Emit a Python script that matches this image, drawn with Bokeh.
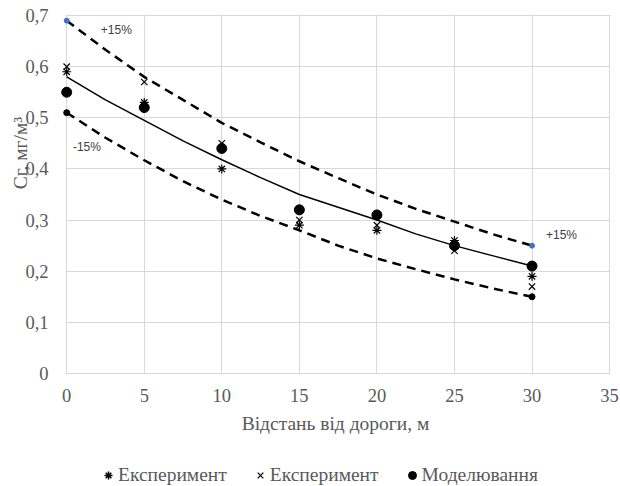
import numpy as np
from bokeh.plotting import figure
from bokeh.layouts import column
from bokeh.models import (Range1d, FixedTicker, CustomJSTickFormatter, Label, Legend, LegendItem,
                          BoxAnnotation)
from bokeh.embed import file_html
from bokeh.resources import INLINE

# ---- data ----
dist = [0, 5, 10, 15, 20, 25, 30]
exp1 = [0.59, 0.53, 0.40, 0.29, 0.28, 0.26, 0.19]   # asterisk markers
exp2 = [0.60, 0.57, 0.45, 0.30, 0.29, 0.24, 0.17]   # x markers
model = [0.55, 0.52, 0.44, 0.32, 0.31, 0.25, 0.21]  # filled circles

curve_x = [0, 2.5, 5, 7.5, 10, 12.5, 15, 17.5, 20, 22.5, 25, 27.5, 30]
trend = [0.58, 0.535, 0.495, 0.455, 0.418, 0.383, 0.35, 0.325, 0.30, 0.273, 0.25, 0.23, 0.21]
upper = [0.69, 0.633, 0.58, 0.535, 0.49, 0.452, 0.415, 0.382, 0.35, 0.322, 0.297, 0.272, 0.25]
lower = [0.51, 0.461, 0.417, 0.376, 0.34, 0.308, 0.28, 0.25, 0.225, 0.204, 0.184, 0.166, 0.15]

x_ticks = [0, 5, 10, 15, 20, 25, 30, 35]
y_ticks = [0, 0.1, 0.2, 0.3, 0.4, 0.5, 0.6, 0.7]

TXT = "#595959"
GRID = "#d9d9d9"
SERIF = "Liberation Serif"

p = figure(width=620, height=446, output_backend="svg", toolbar_location=None,
           x_range=Range1d(-0.4, 35.06), y_range=Range1d(-0.002, 0.702),
           min_border_left=60, min_border_right=10, min_border_top=14, min_border_bottom=72)
p.outline_line_color = None
p.background_fill_color = "white"

p.xaxis.ticker = FixedTicker(ticks=x_ticks)
p.yaxis.ticker = FixedTicker(ticks=y_ticks)
p.xgrid.ticker = FixedTicker(ticks=x_ticks)
p.ygrid.ticker = FixedTicker(ticks=y_ticks)
p.xgrid.grid_line_color = GRID
p.ygrid.grid_line_color = GRID
p.yaxis.formatter = CustomJSTickFormatter(code="return tick == 0 ? '0' : tick.toFixed(1).replace('.', ',');")

for axl in (p.xaxis, p.yaxis):
    axl.axis_line_color = None
    axl.major_tick_line_color = None
    axl.minor_tick_line_color = None
    axl.major_tick_out = 0
    axl.major_tick_in = 0
    axl.major_label_text_font = SERIF
    axl.major_label_text_font_size = "18.5px"
    axl.major_label_text_color = TXT
    axl.axis_label_text_font = SERIF
    axl.axis_label_text_font_size = "19.5px"
    axl.axis_label_text_font_style = "normal"
    axl.axis_label_text_color = TXT

p.xaxis.major_label_standoff = 14
p.yaxis.major_label_standoff = 12
p.xaxis.axis_label = "Відстань від дороги, м"
p.xaxis.axis_label_standoff = 8
p.yaxis.axis_label = "\u00a0" * 17 + "Сг, мг/м³"
p.yaxis.axis_label_standoff = -9

# cover the small strip left of x=0 (keeps markers at x=0 unclipped)
p.add_layout(BoxAnnotation(left=-0.4, right=-0.06, fill_color="white", fill_alpha=1.0,
                           line_color=None, level="underlay"))

# curves
p.line(curve_x, upper, line_color="black", line_width=2.5, line_dash="9 6")
p.line(curve_x, lower, line_color="black", line_width=2.5, line_dash="9 6")
p.line(curve_x, trend, line_color="black", line_width=1.5)

# band end markers
p.scatter([curve_x[0], curve_x[-1]], [upper[0], upper[-1]], marker="circle", size=5,
          fill_color="#4472C4", line_color="#4472C4")
p.scatter([curve_x[0], curve_x[-1]], [lower[0], lower[-1]], marker="circle", size=6,
          fill_color="black", line_color="black")

p.scatter(dist, exp1, marker="asterisk", size=9, line_color="black", line_width=1.2)
p.scatter(dist, exp2, marker="x", size=9, line_color="black", line_width=1.2)
p.scatter(dist, model, marker="circle", size=10, fill_color="black", line_color="black")

# band labels
for (lx, ly, t) in [(2.2, 0.671, "+15%"), (0.4, 0.442, "-15%"), (30.9, 0.27, "+15%")]:
    p.add_layout(Label(x=lx, y=ly, text=t, text_font="Liberation Sans", text_font_size="12px",
                       text_color="#404040", text_baseline="middle", text_align="left"))

# ---- legend strip (separate figure; its glyphs lie outside its view) ----
q = figure(width=620, height=40, output_backend="svg", toolbar_location=None,
           x_range=Range1d(100, 101), y_range=Range1d(100, 101),
           x_axis_type=None, y_axis_type=None, min_border=0)
q.outline_line_color = None
l1 = q.scatter(dist, exp1, marker="asterisk", size=9, line_color="black", line_width=1.5)
l2 = q.scatter(dist, exp2, marker="x", size=8, line_color="black", line_width=1.2)
l3 = q.scatter(dist, model, marker="circle", size=9, fill_color="black", line_color="black")

legend = Legend(items=[LegendItem(label="Експеримент", renderers=[l1]),
                       LegendItem(label="Експеримент", renderers=[l2]),
                       LegendItem(label="Моделювання", renderers=[l3])],
                location=(38, 0), orientation="horizontal",
                label_text_font=SERIF, label_text_font_size="19.5px", label_text_color=TXT,
                glyph_width=20, glyph_height=20, label_standoff=0, spacing=23,
                padding=0, margin=0, border_line_color=None, background_fill_alpha=0)
q.add_layout(legend, "center")

layout = column(p, q, spacing=0)
open("out.html", "w").write(file_html(layout, INLINE))
